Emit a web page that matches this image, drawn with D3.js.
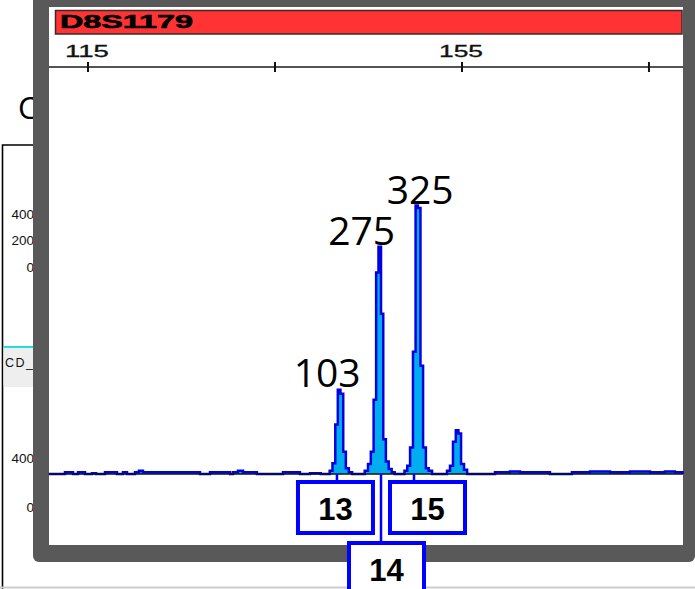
<!DOCTYPE html>
<html>
<head>
<meta charset="utf-8">
<script src="https://cdn.jsdelivr.net/npm/d3@7/dist/d3.min.js"></script>
<style>
  html, body { margin: 0; padding: 0; background: #ffffff; }
  svg { display: block; }
</style>
</head>
<body>
<div id="chart"></div>
<script>
// ---------------- DATA ----------------
const markerName = "D8S1179";
const sizeTicks = [115, 135, 155, 175];
const sizeTickLabels = ["115", "", "155", ""];

// electropherogram trace (size in bp, height in RFU), stepped samples
const traceSize = [
  110.8, 112.54, 113.40, 113.93, 114.68, 115.43, 115.86, 116.82, 118.10, 118.74, 119.17,
  120.03, 120.45, 120.88, 121.63, 124.0, 126.98, 128.05, 130.19, 130.51, 131.04, 131.58,
  133.07, 135.86, 137.67, 138.74, 139.9,
  140.85, 141.15, 141.45, 141.72, 142.00, 142.30, 142.58, 142.90, 143.25, 143.60,
  144.60, 144.95, 145.25, 145.55, 145.82, 146.07, 146.34, 146.58, 146.86, 147.16, 147.48, 147.80, 148.20,
  148.85, 149.15, 149.45, 149.76, 150.04, 150.28, 150.56, 150.84, 151.14, 151.44, 151.80,
  153.40, 153.72, 154.04, 154.34, 154.62, 154.90, 155.22, 155.55,
  158.53, 160.13, 161.20, 162.81, 164.41, 166.76, 168.69, 170.83, 172.97, 175.11, 176.71, 177.78, 178.6
];
const traceRFU = [
  0, 2, 0, 2, 0, 1, 0, 2, 0, 2, 0,
  2, 4, 2, 2, 2, 0, 2, 0, 2, 4, 2,
  0, 2, 0, 1, 0,
  4, 13, 60, 102, 97, 27, 7, 2, 0, 0,
  4, 12, 27, 90, 244, 275, 194, 42, 15, 6, 2, 0, 0,
  4, 10, 32, 148, 325, 322, 131, 32, 7, 4, 0,
  4, 10, 39, 53, 49, 12, 5, 0,
  2, 3, 2, 2, 0, 2, 3, 2, 3, 2, 3, 2, 0
];

// labelled peaks
const peakSize = [141.86, 146.20, 150.16];
const peakRFU  = [103, 275, 325];
const peakLabels = ["103", "275", "325"];

// allele calls
const alleleNames = ["13", "14", "15"];
const alleleSize  = [141.63, 146.34, 149.87];

// partial background panel tick labels
const bgTicksUpper = ["400", "200", "0"];
const bgTicksLower = ["400", "0"];
const bgPanelLabel = "CD_";

// ---------------- LAYOUT ----------------
const W = 695, H = 589;
const svg = d3.select("#chart").append("svg").attr("width", W).attr("height", H);

// ---- background (partially hidden) panel ----
const bg = svg.append("g");
bg.append("text").attr("x", 18).attr("y", 119)
  .attr("font-family", "Open Sans, sans-serif").attr("font-size", 31).attr("fill", "#000")
  .text("C");
bg.append("path").attr("d", "M2.5,589 L2.5,145 L40,145")
  .attr("fill", "none").attr("stroke", "#000").attr("stroke-width", 1.6);
bg.append("rect").attr("x", 3.5).attr("y", 348).attr("width", 36).attr("height", 37).attr("fill", "#eeeeee");
bg.append("line").attr("x1", 3.5).attr("x2", 40).attr("y1", 347).attr("y2", 347)
  .attr("stroke", "#22dddd").attr("stroke-width", 2);
bg.append("line").attr("x1", 3.5).attr("x2", 40).attr("y1", 386).attr("y2", 386)
  .attr("stroke", "#dddddd").attr("stroke-width", 1);
bg.append("text").attr("x", 5).attr("y", 367)
  .attr("font-family", "Liberation Sans, Arial, sans-serif").attr("font-size", 12.5)
  .attr("letter-spacing", 1.5).attr("fill", "#111").text(bgPanelLabel);
const upperY = [219, 245, 272];
bg.selectAll("text.tu").data(bgTicksUpper).join("text").attr("class", "tu")
  .attr("x", 34).attr("y", (d, i) => upperY[i]).attr("text-anchor", "end")
  .attr("font-family", "Liberation Sans, Arial, sans-serif").attr("font-size", 13.5).attr("fill", "#111")
  .text(d => d);
const lowerY = [463, 512];
bg.selectAll("text.tl").data(bgTicksLower).join("text").attr("class", "tl")
  .attr("x", 34).attr("y", (d, i) => lowerY[i]).attr("text-anchor", "end")
  .attr("font-family", "Liberation Sans, Arial, sans-serif").attr("font-size", 13.5).attr("fill", "#111")
  .text(d => d);
bg.append("line").attr("x1", 0).attr("x2", W).attr("y1", 587.5).attr("y2", 587.5)
  .attr("stroke", "#cccccc").attr("stroke-width", 2);

// ---- foreground window frame ----
svg.append("rect").attr("x", 33).attr("y", -12).attr("width", 662).attr("height", 574)
  .attr("rx", 6).attr("fill", "#595959");
svg.append("rect").attr("x", 49).attr("y", 7).attr("width", 634).attr("height", 538).attr("fill", "#ffffff");

// marker bar
svg.append("rect").attr("x", 55.5).attr("y", 10.5).attr("width", 626.5).attr("height", 23.5)
  .attr("fill", "#ff3333").attr("stroke", "#3a2a2a").attr("stroke-width", 1.5);
svg.append("text").attr("x", 60).attr("y", 27.5)
  .attr("font-family", "Liberation Sans, Arial, sans-serif").attr("font-weight", "bold")
  .attr("font-size", 18).attr("textLength", 133).attr("lengthAdjust", "spacingAndGlyphs")
  .attr("fill", "#000").attr("stroke", "#000").attr("stroke-width", 0.6).text(markerName);

// scales
const x = d3.scaleLinear().domain([110.83, 178.64]).range([49, 683]);
const y = d3.scaleLinear().domain([0, 483]).range([474, 75]);

// size axis
const axisY = 67;
svg.append("line").attr("x1", 49).attr("x2", 683).attr("y1", axisY).attr("y2", axisY)
  .attr("stroke", "#1a1a1a").attr("stroke-width", 1.6);
svg.selectAll("line.tick").data(sizeTicks).join("line").attr("class", "tick")
  .attr("x1", d => x(d)).attr("x2", d => x(d)).attr("y1", axisY - 5).attr("y2", axisY + 5)
  .attr("stroke", "#111").attr("stroke-width", 2);
svg.selectAll("text.ticklab").data(sizeTicks.filter((d, i) => sizeTickLabels[i] !== ""))
  .join("text").attr("class", "ticklab")
  .attr("x", d => x(d) - 23).attr("y", 57)
  .attr("font-family", "Liberation Sans, Arial, sans-serif").attr("font-size", 16)
  .attr("textLength", 44).attr("lengthAdjust", "spacingAndGlyphs")
  .attr("fill", "#111").attr("stroke", "#111").attr("stroke-width", 0.3)
  .text(d => sizeTickLabels[sizeTicks.indexOf(d)]);

// trace
const pts = traceSize.map((s, i) => [s, traceRFU[i]]);
const area = d3.area().curve(d3.curveStepAfter)
  .x(d => x(d[0])).y0(y(0)).y1(d => y(d[1]));
const line = d3.line().curve(d3.curveStepAfter)
  .x(d => x(d[0])).y(d => y(d[1]));
svg.append("path").datum(pts).attr("d", area).attr("fill", "#00adef");
svg.append("path").datum(pts).attr("d", line).attr("fill", "none")
  .attr("stroke", "#0000e0").attr("stroke-width", 2.5).attr("stroke-linejoin", "miter");

// baseline
svg.append("line").attr("x1", 49).attr("x2", 683).attr("y1", y(0)).attr("y2", y(0))
  .attr("stroke", "#111").attr("stroke-width", 1.4);

// peak height labels
const labelDx = [-12, -18, 3.5];
svg.selectAll("text.peak").data(peakLabels).join("text").attr("class", "peak")
  .attr("x", (d, i) => x(peakSize[i]) + labelDx[i])
  .attr("y", (d, i) => y(peakRFU[i]) - 2)
  .attr("text-anchor", "middle")
  .attr("font-family", "Open Sans, sans-serif").attr("font-size", 39).attr("fill", "#000")
  .text(d => d);

// allele boxes
const boxW = 75, boxH = 51;
const boxDx = [-1.5, 5.5, 13.5];
const boxTop = [482, 543, 482];
const ag = svg.append("g");
alleleNames.forEach((name, i) => {
  const cx = x(alleleSize[i]);
  ag.append("line").attr("x1", cx).attr("x2", cx).attr("y1", y(0)).attr("y2", boxTop[i])
    .attr("stroke", "#0000ff").attr("stroke-width", 2.5);
  ag.append("rect").attr("x", cx + boxDx[i] - boxW / 2).attr("y", boxTop[i])
    .attr("width", boxW).attr("height", boxH).attr("fill", "#ffffff")
    .attr("stroke", "#0000ff").attr("stroke-width", 4);
  ag.append("text").attr("x", cx + boxDx[i]).attr("y", boxTop[i] + 38)
    .attr("text-anchor", "middle")
    .attr("font-family", "Liberation Sans, Arial, sans-serif").attr("font-weight", "bold")
    .attr("font-size", 31).attr("fill", "#000").text(name);
});
</script>
</body>
</html>
